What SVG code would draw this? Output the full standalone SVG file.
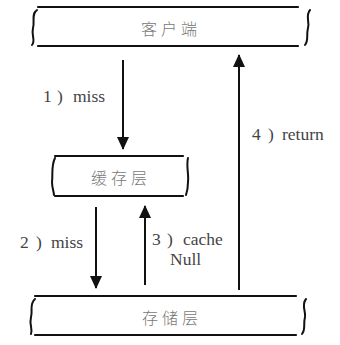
<svg xmlns="http://www.w3.org/2000/svg" width="340" height="345" viewBox="0 0 340 345">
<defs>
<style>
.ln{stroke:#111;stroke-width:2.2;fill:none;stroke-linecap:round}
.br{stroke:#111;stroke-width:2;fill:none;stroke-linecap:round}
.cn{font-family:"Noto Sans CJK SC",sans-serif;font-size:16px;font-weight:300;fill:#777;letter-spacing:4px}
.lb{font-family:"Liberation Serif",serif;font-size:17.5px;fill:#444}
.ar{stroke:#111;stroke-width:2;fill:none}
</style>
<marker id="ah" viewBox="0 0 13 12" refX="12" refY="6" markerWidth="13" markerHeight="12" markerUnits="userSpaceOnUse" orient="auto">
<path d="M0,0 L13,6 L0,12 Z" fill="#111"/>
</marker>
</defs>
<rect width="340" height="345" fill="#fff"/>
<g id="client">
<line class="ln" x1="38" y1="7" x2="298" y2="7"/>
<line class="ln" x1="38" y1="46" x2="298" y2="46"/>
<path class="br" d="M37,10 C31,14 35,22 33,28 C31,36 36,40 32,45"/>
<path class="br" d="M310,10 C305,16 310,22 308,28 C306,36 309,40 305,45"/>
<text class="cn" x="141" y="35">客户端</text>
</g>
<g id="cache">
<line class="ln" x1="55" y1="156" x2="183" y2="156"/>
<line class="ln" x1="55" y1="196" x2="183" y2="196"/>
<path class="br" d="M55,158 C51,166 53,174 52,182 C52,188 54,192 54,195"/>
<path class="br" d="M188,158 C186,166 189,174 188,182 C188,188 187,192 186,195"/>
<text class="cn" x="91" y="184">缓存层</text>
</g>
<g id="storage">
<line class="ln" x1="35" y1="296" x2="296" y2="296"/>
<line class="ln" x1="35" y1="335" x2="296" y2="335"/>
<path class="br" d="M35,299 C29,304 33,311 31,317 C29,325 33,329 31,334"/>
<path class="br" d="M306,299 C301,305 306,311 305,317 C303,325 306,329 302,334"/>
<text class="cn" x="142" y="324">存储层</text>
</g>
<g id="connectors">
<line class="ar" x1="123" y1="60" x2="123" y2="149" marker-end="url(#ah)"/>
<line class="ar" x1="239" y1="290" x2="239" y2="55" marker-end="url(#ah)"/>
<line class="ar" x1="96" y1="207" x2="96" y2="288" marker-end="url(#ah)"/>
<line class="ar" x1="145" y1="285" x2="145" y2="206" marker-end="url(#ah)"/>
<text class="lb" y="102"><tspan x="43">1</tspan><tspan x="57">)</tspan><tspan x="73">miss</tspan></text>
<text class="lb" y="140"><tspan x="252">4</tspan><tspan x="268">)</tspan><tspan x="282">return</tspan></text>
<text class="lb" y="248"><tspan x="20">2</tspan><tspan x="36">)</tspan><tspan x="51">miss</tspan></text>
<text class="lb" y="245"><tspan x="152">3</tspan><tspan x="167">)</tspan><tspan x="183">cache</tspan></text>
<text class="lb" x="170" y="265">Null</text>
</g>
</svg>
